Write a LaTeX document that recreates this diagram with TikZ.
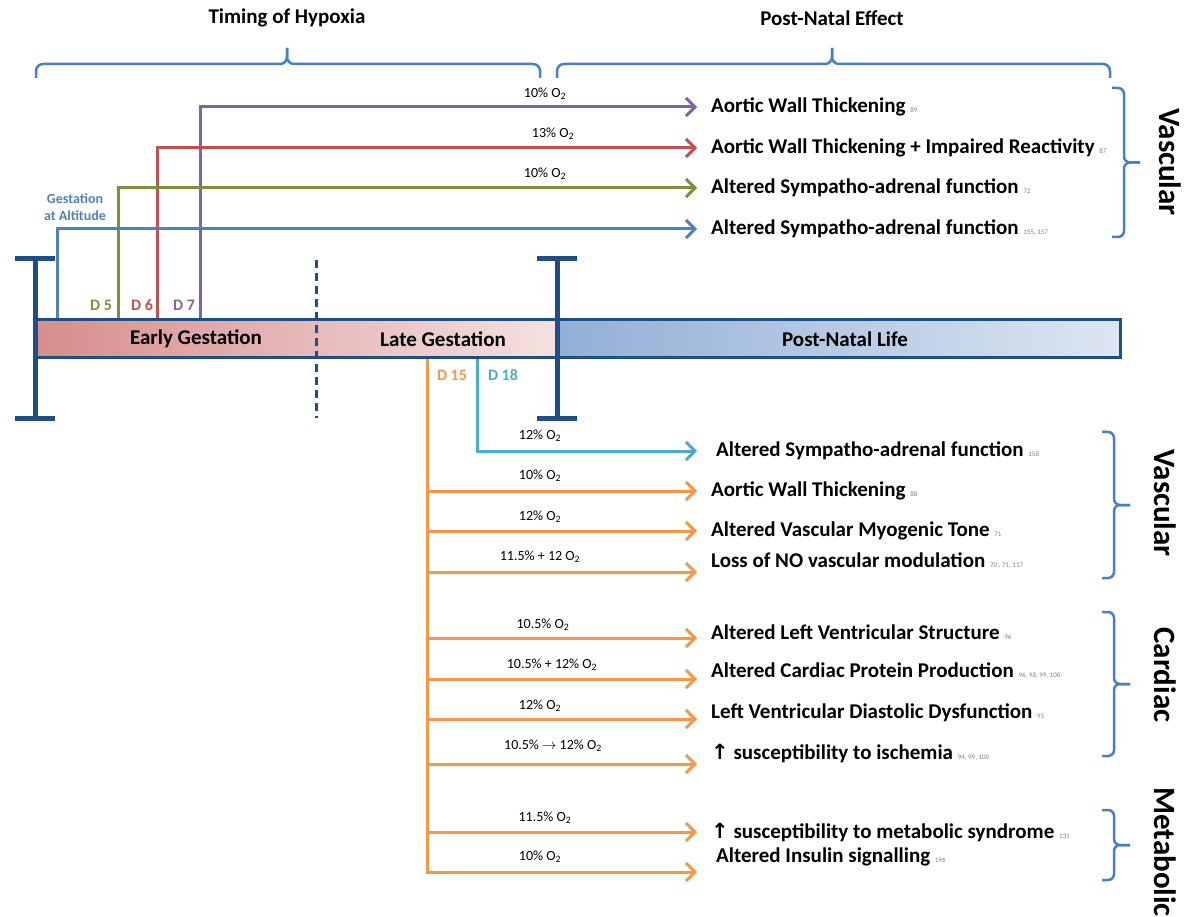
\documentclass[tikz,border=0pt]{standalone}
\usepackage{fontspec}
\setmainfont{Carlito}
\newfontfamily\arrowfont{DejaVu Sans}
\usetikzlibrary{positioning,calc,arrows.meta}
\definecolor{hypPurple}{HTML}{8064A2}
\definecolor{hypRed}{HTML}{C0504D}
\definecolor{hypGreen}{HTML}{77933C}
\definecolor{hypBlue}{HTML}{4F81BD}
\definecolor{hypOrange}{HTML}{F79646}
\definecolor{hypCyan}{HTML}{4BACC6}
\definecolor{timeBlue}{HTML}{1F4E85}
\definecolor{braceBlue}{HTML}{4A7EC4}
\definecolor{gestLeft}{HTML}{D68D8D}
\definecolor{gestRight}{HTML}{F5E1E1}
\definecolor{natalLeft}{HTML}{91AFD6}
\definecolor{natalRight}{HTML}{DDE6F2}
\newcommand{\ox}{O\textsubscript{2}}
\newcommand{\refs}[1]{{\fontsize{7}{8}\selectfont\mdseries\color{gray}#1}}
\newcommand{\up}{{\arrowfont ↑}}
\tikzset{
	title/.style={
		font=\bfseries\fontsize{21}{25}\selectfont,
		inner sep=0pt
	},
	effect/.style={
		anchor=west,
		font=\bfseries\fontsize{21}{25}\selectfont,
		inner sep=0pt
	},
	dose/.style={
		font=\fontsize{14}{16}\selectfont,
		inner sep=0pt
	},
	day/.style={
		font=\bfseries\fontsize{16}{18}\selectfont,
		inner sep=0pt
	},
	group/.style={
		font=\bfseries\fontsize{31}{35}\selectfont,
		rotate=-90,
		inner sep=0pt
	},
	hline/.style={
		line width=3pt,
		-{Straight Barb[length=9pt,width=18pt]}
	},
	ibeam/.style={
		line width=5pt,
		draw=timeBlue
	},
	bracket/.style={
		line width=2.5pt,
		draw=braceBlue,
		rounded corners=6pt
	},
	bar/.style={
		rectangle,
		draw=timeBlue,
		line width=3pt,
		inner sep=0pt,
		minimum height=38pt
	},
	gestbar/.style={
		bar,
		minimum width=521pt,
		left color=gestLeft,
		right color=gestRight
	},
	natalbar/.style={
		bar,
		minimum width=563pt,
		left color=natalLeft,
		right color=natalRight
	}
}
% side bracket: name, x, top, bottom
\newcommand{\sidebrace}[4]{
	\coordinate (#1 mid) at (#2,{(#3+#4)/2});
	\draw[bracket] (#2-12,#3) -- (#2,#3) -- (#1 mid) -- ++(16,0);
	\draw[bracket] (#1 mid) ++(16,0) -- (#1 mid) -- (#2,#4) -- (#2-12,#4);
}
\begin{document}
\begin{tikzpicture}[x=1pt,y=-1pt]
	\useasboundingbox (0,0) rectangle (1187,917);
	% headings and top braces
	\node[title] (timing) at (287,18) {Timing of Hypoxia};
	\node[title] (effect) at (832,18) {Post-Natal Effect};
	\draw[bracket,rounded corners=7pt] (36,78) -- (36,64) -- (287,64) -- (287,48);
	\draw[bracket,rounded corners=7pt] (287,48) -- (287,64) -- (540,64) -- (540,78);
	\draw[bracket,rounded corners=7pt] (557,78) -- (557,64) -- (832,64) -- (832,48);
	\draw[bracket,rounded corners=7pt] (832,48) -- (832,64) -- (1110,64) -- (1110,78);
	% exposure start points
	\coordinate (alt) at (57,320);
	\coordinate (d5) at (118,320);
	\coordinate (d6) at (157,320);
	\coordinate (d7) at (200,320);
	\coordinate (d15) at (427,358);
	\coordinate (d18) at (477,358);
	% early effects
	\coordinate (e1 tip) at (697,107);
	\coordinate (e2 tip) at (697,148);
	\coordinate (e3 tip) at (697,188);
	\coordinate (e4 tip) at (697,229);
	\node[effect] (e1) at (711,107) {Aortic Wall Thickening \refs{89}};
	\node[effect] (e2) at (711,148) {Aortic Wall Thickening + Impaired Reactivity \refs{87}};
	\node[effect] (e3) at (711,188) {Altered Sympatho-adrenal function \refs{72}};
	\node[effect] (e4) at (711,229) {Altered Sympatho-adrenal function \refs{155, 157}};
	\node[dose] (o1) at (545,94) {10\% \ox};
	\node[dose] (o2) at (553,134) {13\% \ox};
	\node[dose] (o3) at (545,174) {10\% \ox};
	\draw[hline,hypPurple] (d7) |- (e1 tip);
	\draw[hline,hypRed] (d6) |- (e2 tip);
	\draw[hline,hypGreen] (d5) |- (e3 tip);
	\draw[hline,hypBlue] (alt) |- (e4 tip);
	\node[day,hypGreen] (lab d5) at (101,305) {D 5};
	\node[day,hypRed] (lab d6) at (142,305) {D 6};
	\node[day,hypPurple] (lab d7) at (184,305) {D 7};
	\node[day,hypBlue,font=\bfseries\fontsize{14}{17}\selectfont,align=center] (lab alt) at (75,207) {Gestation\\at Altitude};
	% late effects
	\coordinate (l1 tip) at (697,451);
	\coordinate (l2 tip) at (697,491);
	\coordinate (l3 tip) at (697,531);
	\coordinate (l4 tip) at (697,572);
	\coordinate (l5 tip) at (697,638);
	\coordinate (l6 tip) at (697,679);
	\coordinate (l7 tip) at (697,719);
	\coordinate (l8 tip) at (697,764);
	\coordinate (l9 tip) at (697,832);
	\coordinate (l10 tip) at (697,872);
	\node[effect] (l1) at (716,451) {Altered Sympatho-adrenal function \refs{158}};
	\node[effect] (l2) at (711,491) {Aortic Wall Thickening \refs{88}};
	\node[effect] (l3) at (711,531) {Altered Vascular Myogenic Tone \refs{71}};
	\node[effect] (l4) at (711,561) {Loss of NO vascular modulation \refs{70 , 71, 117}};
	\node[effect] (l5) at (711,632) {Altered Left Ventricular Structure \refs{96}};
	\node[effect] (l6) at (711,671) {Altered Cardiac Protein Production \refs{96, 98, 99, 100}};
	\node[effect] (l7) at (711,713) {Left Ventricular Diastolic Dysfunction \refs{95}};
	\node[effect] (l8) at (711,753) {\up{} susceptibility to ischemia \refs{94, 99, 100}};
	\node[effect] (l9) at (711,832) {\up{} susceptibility to metabolic syndrome \refs{131}};
	\node[effect] (l10) at (716,857) {Altered Insulin signalling \refs{196}};
	\node[dose] (p1) at (540,436) {12\% \ox};
	\node[dose] (p2) at (540,476) {10\% \ox};
	\node[dose] (p3) at (540,517) {12\% \ox};
	\node[dose] (p4) at (540,557) {11.5\% + 12 \ox};
	\node[dose] (p5) at (543,625) {10.5\% \ox};
	\node[dose] (p6) at (552,665) {10.5\% + 12\% \ox};
	\node[dose] (p7) at (540,706) {12\% \ox};
	\node[dose] (p8) at (553,746) {10.5\% $\rightarrow$ 12\% \ox};
	\node[dose] (p9) at (545,818) {11.5\% \ox};
	\node[dose] (p10) at (540,857) {10\% \ox};
	\draw[hline,hypCyan] (d18) |- (l1 tip);
	\foreach \n in {2,...,10}
		\draw[hline,hypOrange] (d15) |- (l\n\space tip);
	\node[day,hypOrange] (lab d15) at (452,375) {D 15};
	\node[day,hypCyan] (lab d18) at (503,375) {D 18};
	% time line
	\node[gestbar] (gest) at (296.5,339) {};
	\node[natalbar] (natal) at (838.5,339) {};
	\node[title] (early) at (196,339) {Early Gestation};
	\node[title] (late) at (443,339) {Late Gestation};
	\node[title] (post) at (845,339) {Post-Natal Life};
	\draw[timeBlue,line width=3pt,dash pattern=on 8pt off 5pt] (316,260) -- (316,418);
	\draw[ibeam] (15,259) -- (55,259) (35,259) -- (35,419) (15,419) -- (55,419);
	\draw[ibeam] (537,259) -- (577,259) (557,259) -- (557,419) (537,419) -- (577,419);
	% groups
	\sidebrace{b1}{1124}{88}{237}
	\sidebrace{b2}{1114}{432}{578}
	\sidebrace{b3}{1114}{612}{756}
	\sidebrace{b4}{1114}{810}{880}
	\node[group] (vasc1) at (1170,162) {Vascular};
	\node[group] (vasc2) at (1165,503) {Vascular};
	\node[group] (card) at (1165,675) {Cardiac};
	\node[group] (meta) at (1165,852) {Metabolic};
\end{tikzpicture}
\end{document}
